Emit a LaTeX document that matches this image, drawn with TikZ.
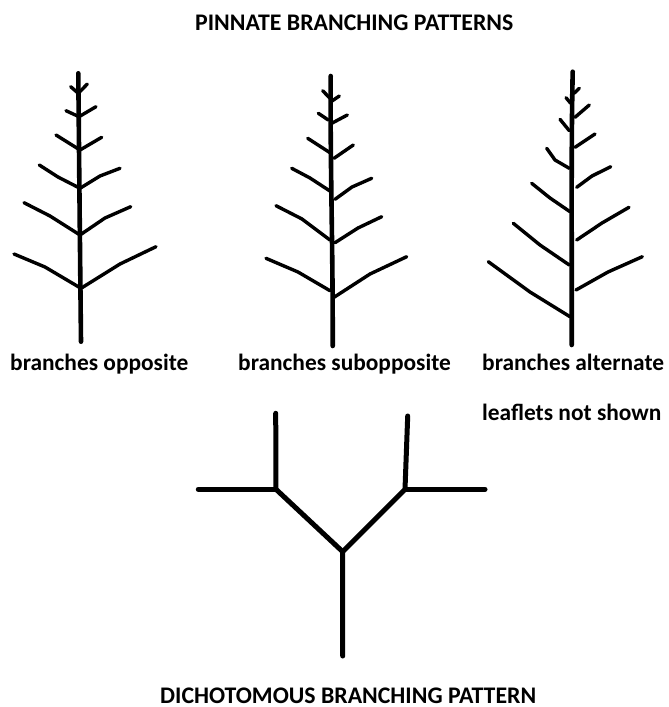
\documentclass[tikz,border=0pt]{standalone}
\usepackage{fontspec}
\setmainfont{Carlito}
\begin{document}
\begin{tikzpicture}[x=1pt,y=-1pt,
  trunk/.style={line width=4.6pt,line cap=round,line join=round},
  twig/.style={line width=3.4pt,line cap=round,line join=round},
  fork/.style={line width=5pt,line cap=round,line join=round},
  heading/.style={anchor=base west,inner sep=0pt,font=\fontsize{23.8}{28}\selectfont\bfseries},
  caption/.style={anchor=base west,inner sep=0pt,font=\fontsize{23.4}{28}\selectfont\bfseries}]
\useasboundingbox (0,0) rectangle (669,707);

% headings and captions
\node[heading] (ttop) at (195,30.7) {PINNATE BRANCHING PATTERNS};
\node[caption] (lopp) at (10,370) {branches opposite};
\node[caption] (lsub) at (238,370) {branches subopposite};
\node[caption] (lalt) at (482,370) {branches alternate};
\node[caption] (lnot) at (482,420) {leaflets not shown};
\node[heading] (tbot) at (160,703.5) {DICHOTOMOUS BRANCHING PATTERN};

% opposite branches
\draw[trunk] (78.3,73.3) .. controls (79,150) and (80,250) .. (81,341.7);
\draw[twig] (70.7,86.7) -- (78.3,93.3) -- (87.3,84);
\draw[twig] (66,110.7) -- (79,116.7) -- (96,106.7);
\draw[twig] (56,135) -- (80,150) -- (101.7,137.3);
\draw[twig] (39.3,165) -- (58,177) -- (80,188.3) -- (100,176) -- (120,168.3);
\draw[twig] (24,202.7) -- (50,216) -- (80,235) -- (105,218) -- (130.7,206.7);
\draw[twig] (14,254) -- (45,267) -- (81,288.3) -- (120,264) -- (156,246.7);

% subopposite branches
\draw[trunk] (330.7,76) .. controls (330,160) and (333,250) .. (332.7,346);
\draw[twig] (322.7,90.7) -- (330,98.3);
\draw[twig] (331,101.7) -- (339.3,96);
\draw[twig] (318.3,113.3) -- (328.3,120);
\draw[twig] (331.7,123.3) -- (347.3,115);
\draw[twig] (307.7,138.3) -- (330,152.7);
\draw[twig] (334,158.3) -- (353.3,145);
\draw[twig] (291.7,168.3) -- (310,178) -- (331,191.7);
\draw[twig] (335,199.3) -- (352,187) -- (371.7,178.3);
\draw[twig] (276,205.7) -- (302,219) -- (330,240);
\draw[twig] (335,242.7) -- (358,228) -- (381.7,216.7);
\draw[twig] (266,258.3) -- (298,272) -- (330,290.7);
\draw[twig] (334,297.3) -- (370,274) -- (406.7,256.7);

% alternate branches
\draw[trunk] (572.7,71.7) .. controls (571,150) and (572,250) .. (571.7,345);
\draw[twig] (574,93.3) -- (579.3,88.3);
\draw[twig] (566,97.7) -- (570.7,103.3);
\draw[twig] (575,117.3) -- (589.3,105);
\draw[twig] (560,119.3) -- (569.3,130.7);
\draw[twig] (575,147.3) -- (595,134);
\draw[twig] (546.7,148.3) -- (555,160) -- (569.3,168.3);
\draw[twig] (576.7,187.3) -- (592,176) -- (610.7,166.7);
\draw[twig] (531.7,183.3) -- (550,198) -- (570,211.7);
\draw[twig] (576.7,240) -- (602,223) -- (629,207.3);
\draw[twig] (513.3,223.3) -- (540,245) -- (569.3,265);
\draw[twig] (576,290) -- (608,272) -- (642.3,256.7);
\draw[twig] (488.3,261.7) -- (530,292) -- (570,316.7);

% dichotomous branching
\coordinate (base) at (342.7,656);
\coordinate (split) at (342.7,551.7);
\coordinate (lfork) at (276,489.3);
\coordinate (rfork) at (405,489.3);
\coordinate (ltop) at (275.7,413.3);
\coordinate (rtop) at (407.7,416);
\coordinate (lend) at (198.3,489.3);
\coordinate (rend) at (485,489.3);
\draw[fork] (base) -- (split) -- (lfork) -- (ltop);
\draw[fork] (split) -- (rfork) -- (rtop);
\draw[fork] (lfork) -- (lend);
\draw[fork] (rfork) -- (rend);
\end{tikzpicture}
\end{document}
